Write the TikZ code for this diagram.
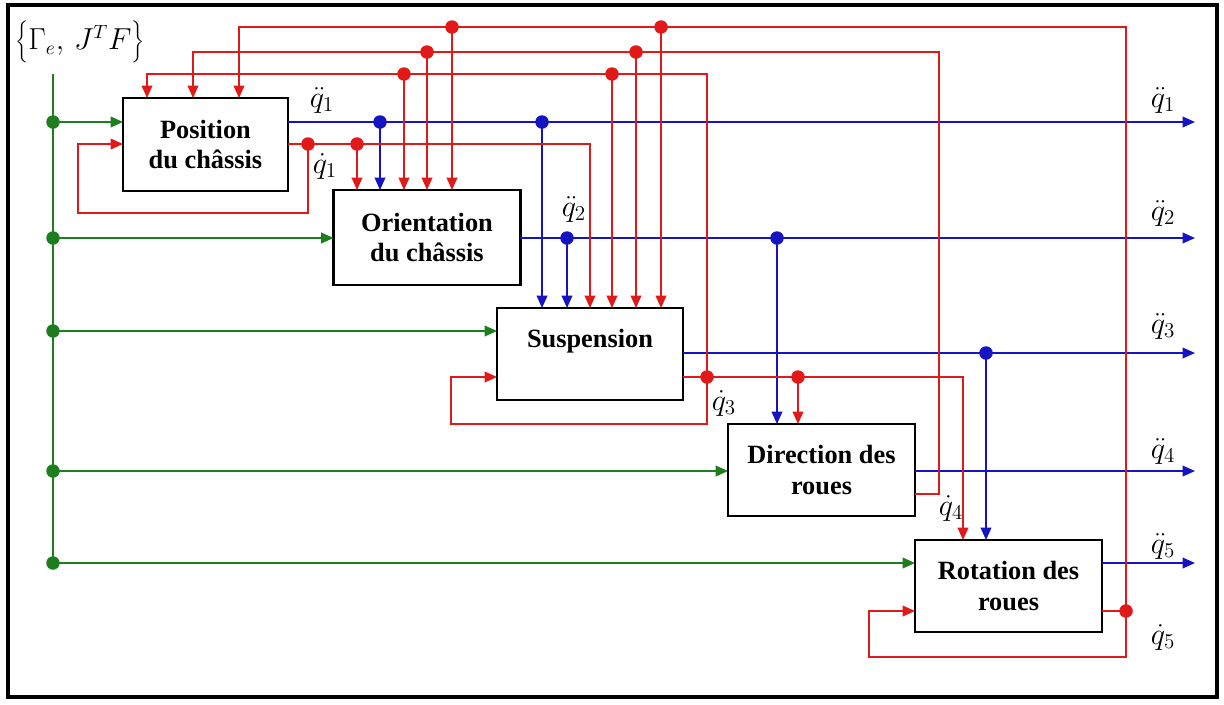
\documentclass[tikz,border=0pt]{standalone}
\usepackage[no-math]{fontspec}
\setmainfont{Liberation Serif}
\usetikzlibrary{arrows.meta}
\definecolor{vert}{RGB}{30,125,30}
\definecolor{bleu}{RGB}{20,20,195}
\definecolor{rouge}{RGB}{225,25,25}
\tikzset{
  bloc/.style={draw, line width=1.2pt, fill=white, inner sep=0pt, outer sep=0pt,
    align=center, font=\fontsize{15}{17.5}\selectfont\bfseries},
  fil/.style={line width=1pt, -{Triangle[length=7pt,width=6pt]}},
  nu/.style={line width=1pt},
  jonction/.style={circle, fill, inner sep=0pt, minimum size=0.27cm},
  lab/.style={font=\fontsize{17}{17}\selectfont, inner sep=1pt},
}
\begin{document}
\begin{tikzpicture}[x=0.02cm, y=-0.02cm]
  \useasboundingbox (0,0) rectangle (1224,704);
  \draw[line width=1.8pt] (8,5) rectangle (1217,697);
  % blocs
  \node[bloc, minimum width=3.3cm, minimum height=1.86cm] (pos) at (205.5,144.5) {Position\\du châssis};
  \node[bloc, minimum width=3.74cm, minimum height=1.9cm] (ori) at (427,237.5) {Orientation\\du châssis};
  \node[bloc, minimum width=3.72cm, minimum height=1.84cm] (sus) at (590,354) {Suspension\\\mbox{}};
  \node[bloc, minimum width=3.74cm, minimum height=1.84cm] (dir) at (821.5,470) {Direction des\\roues};
  \node[bloc, minimum width=3.74cm, minimum height=1.84cm] (rot) at (1008.5,586) {Rotation des\\roues};
  \node[font=\fontsize{16}{16}\selectfont, inner sep=0pt] (entree) at (80,42) {$\biggl\{\Gamma_e,\, J^T F\biggr\}$};
  % entrees
  \coordinate (bus) at (53,74);
  \draw[vert, nu] (bus) -- (53,563);
  \foreach \b/\y in {pos/122, ori/238, sus/331, dir/471, rot/563} {
    \coordinate (g\b) at (53,\y);
    \draw[vert, fil] (g\b) -- (g\b -| \b.west);
    \node[jonction, vert] at (g\b) {};
  }
  % accelerations
  \foreach \b/\y/\i/\ly in {pos/122/1/100, ori/238/2/213, sus/353/3/326, dir/471/4/451, rot/563/5/546} {
    \coordinate (e\i) at (1195,\y);
    \draw[bleu, fil] (\b.east |- e\i) -- (e\i);
    \node[lab] (qa\i) at (1163,\ly) {$\ddot{q}_\i$};
  }
  \foreach \x/\y/\b in {380/122/ori, 542/122/sus, 567/238/sus, 777/238/dir, 986/353/rot} {
    \coordinate (bd\x) at (\x,\y);
    \draw[bleu, fil] (bd\x) -- (bd\x |- \b.north);
    \node[jonction, bleu] at (bd\x) {};
  }
  % vitesses
  \coordinate (r1) at (308,144);
  \coordinate (r1b) at (357,144);
  \coordinate (c1) at (590,144);
  \coordinate (f1) at (78,213);
  \draw[rouge, fil] (pos.east |- c1) -| (c1 |- sus.north);
  \draw[rouge, fil] (r1b) -- (r1b |- ori.north);
  \draw[rouge, fil] (r1) |- (f1) |- (pos.west |- r1);
  \coordinate (r3) at (707,377);
  \coordinate (r3b) at (798,377);
  \coordinate (c3) at (963,377);
  \coordinate (f3) at (451,424);
  \coordinate (t3) at (147,74);
  \draw[rouge, fil] (sus.east |- r3) -| (c3 |- rot.north);
  \draw[rouge, fil] (r3b) -- (r3b |- dir.north);
  \draw[rouge, fil] (r3) |- (f3) |- (sus.west |- r3);
  \draw[rouge, fil] (r3) |- (t3) -- (t3 |- pos.north);
  \coordinate (c4) at (939,494);
  \coordinate (t4) at (193,52);
  \draw[rouge, fil] (dir.east |- c4) -- (c4) |- (t4) -- (t4 |- pos.north);
  \coordinate (r5) at (1126,611);
  \coordinate (f5) at (869,657);
  \coordinate (t5) at (239,27);
  \draw[rouge, nu] (rot.east |- r5) -- (r5);
  \draw[rouge, fil] (r5) |- (t5) -- (t5 |- pos.north);
  \draw[rouge, fil] (r5) |- (f5) |- (rot.west |- r5);
  \foreach \x/\y/\b in {404/74/ori, 612/74/sus, 427/52/ori, 636/52/sus, 452/27/ori, 661/27/sus} {
    \coordinate (rd\x) at (\x,\y);
    \draw[rouge, fil] (rd\x) -- (rd\x |- \b.north);
    \node[jonction, rouge] at (rd\x) {};
  }
  \foreach \c in {r1, r1b, r3, r3b, r5}
    \node[jonction, rouge] at (\c) {};
  % etiquettes
  \node[lab] (qa1b) at (322,100) {$\ddot{q}_1$};
  \node[lab] (qv1) at (325,166) {$\dot{q}_1$};
  \node[lab] (qa2b) at (574,209) {$\ddot{q}_2$};
  \node[lab] (qv3) at (724,403) {$\dot{q}_3$};
  \node[lab] (qv4) at (951,508) {$\dot{q}_4$};
  \node[lab] (qv5) at (1163,637) {$\dot{q}_5$};
\end{tikzpicture}
\end{document}
